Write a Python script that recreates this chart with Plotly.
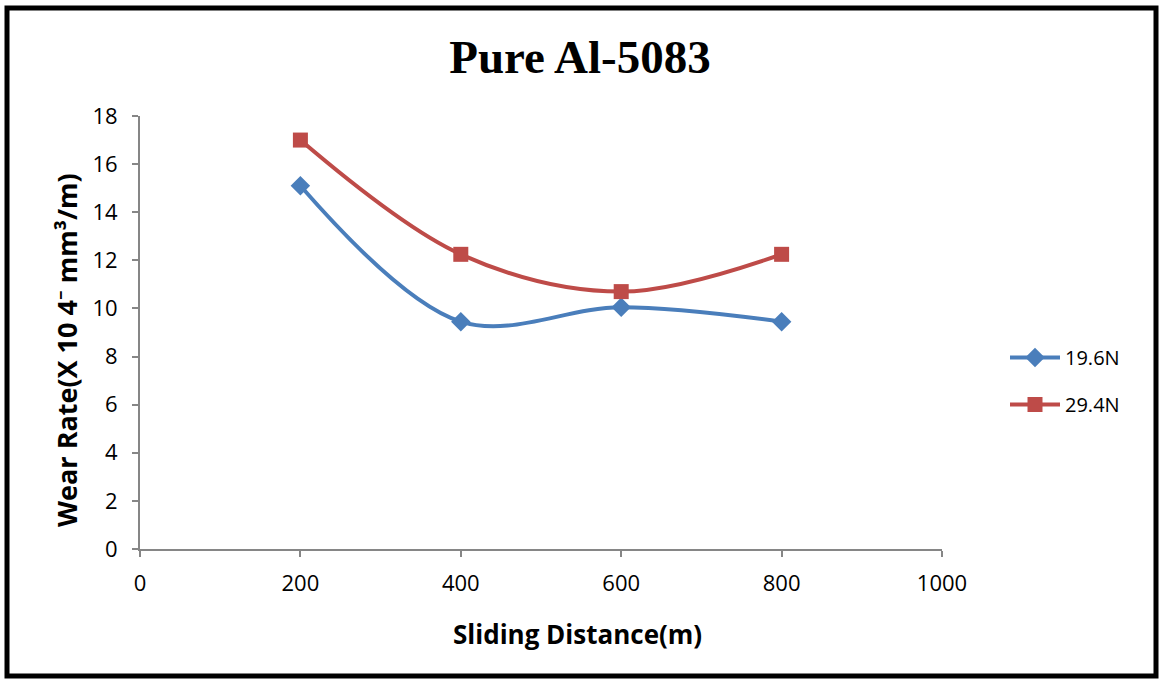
import plotly.graph_objects as go

distance = [200, 400, 600, 800]
wear_19_6 = [15.1, 9.45, 10.05, 9.45]
wear_29_4 = [17.0, 12.25, 10.7, 12.25]
series_names = ["19.6N", "29.4N"]

L, R, T, B = 140, 218, 116, 130
W, H = 1160, 679
pw, ph = W - L - R, H - T - B

fig = go.Figure()
fig.add_trace(go.Scatter(
    x=distance, y=wear_19_6, name=series_names[0], mode="lines+markers", legendgroup="a",
    line=dict(color="#4a7ebb", width=4, shape="spline", smoothing=1.0),
    marker=dict(symbol="diamond", size=15, color="#4a7ebb"),
))
fig.add_trace(go.Scatter(
    x=distance, y=wear_29_4, name=series_names[1], mode="lines+markers", legendgroup="b",
    line=dict(color="#be4b48", width=4, shape="spline", smoothing=1.0),
    marker=dict(symbol="square", size=15, color="#be4b48"),
))

fam = "Open Sans, Noto Sans, sans-serif"
axis_font = dict(family=fam, size=22, color="#000")
fig.update_layout(
    width=W, height=H,
    margin=dict(l=L, r=R, t=T, b=B),
    paper_bgcolor="white", plot_bgcolor="white",
    title=dict(text="<b>Pure Al-5083</b>", x=0.5, xanchor="center", xref="container",
               y=1 - 57 / H, yanchor="middle", yref="container",
               font=dict(family="Liberation Serif, Times New Roman, serif", size=47, color="#000")),
    xaxis=dict(range=[0, 1000], tickvals=[0, 200, 400, 600, 800, 1000], showgrid=False,
               zeroline=False, showline=True, linecolor="#868686", linewidth=2,
               ticks="outside", ticklen=6, tickcolor="#868686", tickwidth=2,
               tickfont=axis_font, ticklabelstandoff=8),
    yaxis=dict(range=[0, 18], dtick=2, showgrid=False, zeroline=False, showline=True,
               linecolor="#868686", linewidth=2, ticks="outside", ticklen=6,
               tickcolor="#868686", tickwidth=2, tickfont=axis_font, ticklabelstandoff=10),
    legend=dict(x=(1005 - L) / pw, y=1 - (338 - T) / ph, xanchor="left", yanchor="top",
                font=dict(family=fam, size=20, color="#000"),
                bgcolor="rgba(0,0,0,0)", tracegroupgap=18, itemwidth=50),
    showlegend=True,
)

title_font = dict(family=fam, size=27, color="#000")
fig.add_annotation(text="<b>Sliding Distance(m)</b>", xref="paper", yref="paper",
                   x=(577 - L) / pw, y=1 - (634 - T) / ph, showarrow=False,
                   xanchor="center", yanchor="middle", font=dict(family=fam, size=26, color="#000"))
fig.add_annotation(text="<b>Wear Rate(X 10 4⁻ mm³/m)</b>", xref="paper", yref="paper",
                   x=(66 - L) / pw, y=1 - (350 - T) / ph, showarrow=False, textangle=-90,
                   xanchor="center", yanchor="middle", font=title_font)

# outer frame
fig.add_shape(type="rect", xref="paper", yref="paper",
              x0=(7 - L) / pw, x1=(1156 - L) / pw,
              y0=1 - (676 - T) / ph, y1=1 - (8 - T) / ph,
              line=dict(color="black", width=5), fillcolor="rgba(0,0,0,0)", layer="above")

fig.write_html("out.html")
